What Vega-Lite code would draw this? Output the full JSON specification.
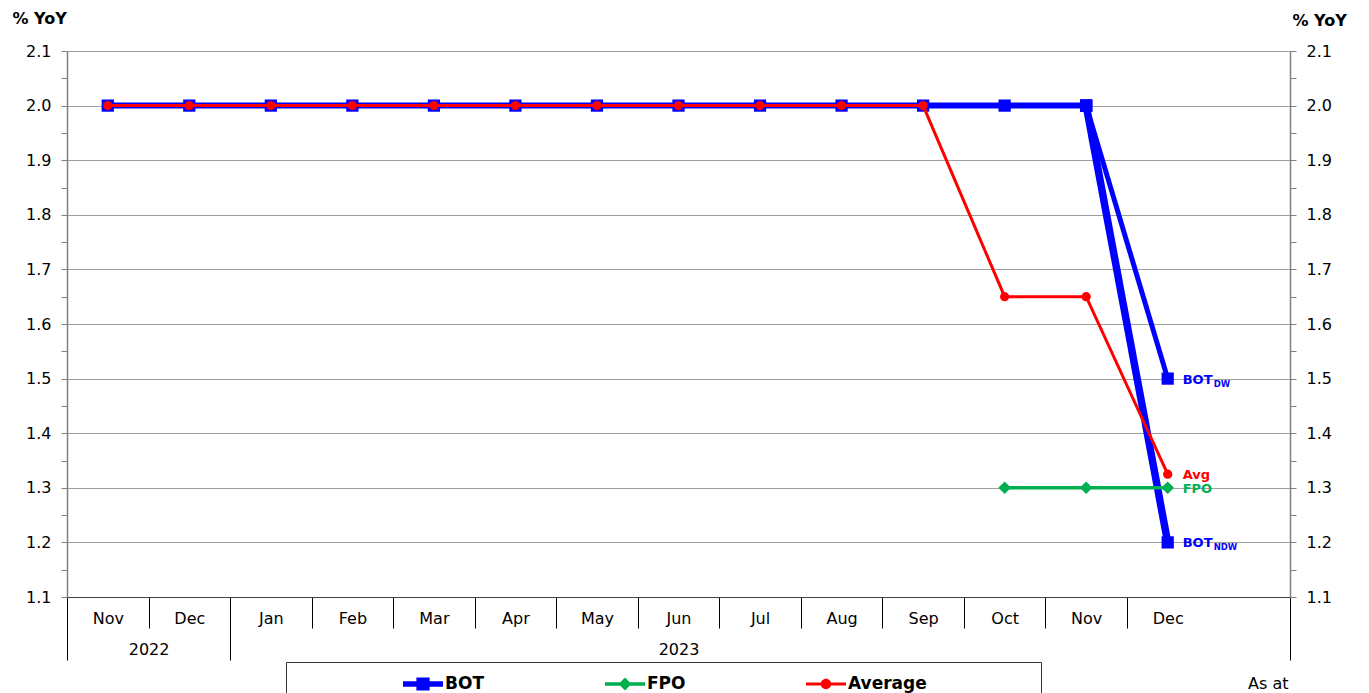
{
  "$schema": "https://vega.github.io/schema/vega-lite/v6.json",
  "width": 1223,
  "height": 546,
  "autosize": {"type": "none"},
  "padding": {"left": 67, "top": 51, "right": 79, "bottom": 96},
  "background": "white",
  "config": {"font": "DejaVu Sans", "view": {"stroke": null}},
  "datasets": {
    "series": [
      {"m": "2022-11", "v": 2.0, "s": "BOT", "b": "main"},
      {"m": "2022-12", "v": 2.0, "s": "BOT", "b": "main"},
      {"m": "2023-01", "v": 2.0, "s": "BOT", "b": "main"},
      {"m": "2023-02", "v": 2.0, "s": "BOT", "b": "main"},
      {"m": "2023-03", "v": 2.0, "s": "BOT", "b": "main"},
      {"m": "2023-04", "v": 2.0, "s": "BOT", "b": "main"},
      {"m": "2023-05", "v": 2.0, "s": "BOT", "b": "main"},
      {"m": "2023-06", "v": 2.0, "s": "BOT", "b": "main"},
      {"m": "2023-07", "v": 2.0, "s": "BOT", "b": "main"},
      {"m": "2023-08", "v": 2.0, "s": "BOT", "b": "main"},
      {"m": "2023-09", "v": 2.0, "s": "BOT", "b": "main"},
      {"m": "2023-10", "v": 2.0, "s": "BOT", "b": "main"},
      {"m": "2023-11", "v": 2.0, "s": "BOT", "b": "main"},
      {"m": "2023-11", "v": 2.0, "s": "BOT", "b": "NDW"},
      {"m": "2023-12", "v": 1.2, "s": "BOT", "b": "NDW"},
      {"m": "2023-11", "v": 2.0, "s": "BOT", "b": "DW"},
      {"m": "2023-12", "v": 1.5, "s": "BOT", "b": "DW"},
      {"m": "2023-10", "v": 1.3, "s": "FPO", "b": "main"},
      {"m": "2023-11", "v": 1.3, "s": "FPO", "b": "main"},
      {"m": "2023-12", "v": 1.3, "s": "FPO", "b": "main"},
      {"m": "2022-11", "v": 2.0, "s": "Average", "b": "main"},
      {"m": "2022-12", "v": 2.0, "s": "Average", "b": "main"},
      {"m": "2023-01", "v": 2.0, "s": "Average", "b": "main"},
      {"m": "2023-02", "v": 2.0, "s": "Average", "b": "main"},
      {"m": "2023-03", "v": 2.0, "s": "Average", "b": "main"},
      {"m": "2023-04", "v": 2.0, "s": "Average", "b": "main"},
      {"m": "2023-05", "v": 2.0, "s": "Average", "b": "main"},
      {"m": "2023-06", "v": 2.0, "s": "Average", "b": "main"},
      {"m": "2023-07", "v": 2.0, "s": "Average", "b": "main"},
      {"m": "2023-08", "v": 2.0, "s": "Average", "b": "main"},
      {"m": "2023-09", "v": 2.0, "s": "Average", "b": "main"},
      {"m": "2023-10", "v": 1.65, "s": "Average", "b": "main"},
      {"m": "2023-11", "v": 1.65, "s": "Average", "b": "main"},
      {"m": "2023-12", "v": 1.325, "s": "Average", "b": "main"}
    ],
    "labels": [
      {"m": "2023-12", "v": 1.5, "s": "BOT", "main": "BOT", "sub": "DW"},
      {"m": "2023-12", "v": 1.2, "s": "BOT", "main": "BOT", "sub": "NDW"},
      {"m": "2023-12", "v": 1.325, "s": "Average", "main": "Avg", "sub": null},
      {"m": "2023-12", "v": 1.3, "s": "FPO", "main": "FPO", "sub": null}
    ]
  },
  "resolve": {"axis": {"x": "independent", "y": "independent"}},
  "encoding": {
    "x": {"field": "m", "type": "ordinal",
      "scale": {"type": "band", "domain": ["2022-11","2022-12","2023-01","2023-02","2023-03","2023-04","2023-05","2023-06","2023-07","2023-08","2023-09","2023-10","2023-11","2023-12","2024-01"], "paddingInner": 0, "paddingOuter": 0},
      "axis": null},
    "y": {"field": "v", "type": "quantitative", "scale": {"domain": [1.1, 2.1], "nice": false, "zero": false}, "axis": null},
    "color": {"field": "s", "type": "nominal",
      "scale": {"domain": ["BOT", "FPO", "Average"], "range": ["#0000FF", "#00B050", "#FF0000"]},
      "legend": {
        "title": " ", "titleOrient": "left", "titlePadding": 115, "titleFontSize": 1,
        "orient": "none", "legendX": 219, "legendY": 611, "direction": "horizontal",
        "padding": 2, "strokeColor": "#333333", "fillColor": "#FFFFFF",
        "columnPadding": 120, "symbolSize": 1600, "symbolType": "square",
        "labelFontSize": 17, "labelFontWeight": "bold", "labelColor": "#000000", "labelFont": "DejaVu Sans",
        "labelOffset": 2, "labelLimit": 400,
        "encode": {
          "labels": {"update": {"text": {"signal": "datum.label == 'Average' ? 'Average\u2800\u2800\u2800\u2800\u2800\u2800\u2800\u00a0\u2800' : datum.label"}}},
          "symbols": {"update": {
          "shape": {"signal": "datum.value == 'BOT' ? 'M-1,-0.14H1V0.14H-1Z M-0.33,-0.33H0.33V0.33H-0.33Z' : datum.value == 'FPO' ? 'M-1,-0.09H1V0.09H-1Z M0,-0.32L0.32,0L0,0.32L-0.32,0Z' : 'M-1,-0.075H1V0.075H-1Z M-0.26,0A0.26,0.26 0 1,1 0.26,0A0.26,0.26 0 1,1 -0.26,0Z'"},
          "fill": {"signal": "datum.value == 'BOT' ? '#0000FF' : datum.value == 'FPO' ? '#00B050' : '#FF0000'"},
          "stroke": {"value": "transparent"},
          "strokeWidth": {"value": 0},
          "opacity": {"value": 1},
          "fillOpacity": {"value": 1}
        }}}
      }}
  },
  "layer": [
    {
      "data": {"name": "series"},
      "transform": [{"filter": "datum.s == 'BOT' && datum.b == 'main'"}],
      "mark": {"type": "line", "strokeWidth": 6},
      "encoding": {
        "x": {"field": "m", "type": "ordinal",
          "scale": {"type": "band", "domain": ["2022-11","2022-12","2023-01","2023-02","2023-03","2023-04","2023-05","2023-06","2023-07","2023-08","2023-09","2023-10","2023-11","2023-12","2024-01"], "paddingInner": 0, "paddingOuter": 0},
          "axis": {"title": null, "orient": "bottom", "tickBand": "extent", "grid": false,
            "tickSize": 31,
            "tickOpacity": {"condition": {"test": "datum.value == '2023-12'", "value": 0}, "value": 1},
            "tickColor": "#000000", "tickWidth": 1, "domainColor": "#404040", "domainWidth": 1,
            "labelExpr": "datum.value == '2024-01' || !datum.value ? '' : timeFormat(toDate(datum.value + '-15T12:00:00'), '%b')",
            "labelAngle": 0, "labelFontSize": 16, "labelFont": "DejaVu Sans", "labelColor": "#000000",
            "labelBaseline": "middle", "labelPadding": -10, "labelOverlap": false, "labelBound": false, "labelFlush": false}},
        "y": {"field": "v", "type": "quantitative", "scale": {"domain": [1.1, 2.1], "nice": false, "zero": false},
          "axis": {"orient": "left", "values": [1.1,1.15,1.2,1.25,1.3,1.35,1.4,1.45,1.5,1.55,1.6,1.65,1.7,1.75,1.8,1.85,1.9,1.95,2.0,2.05,2.1],
            "labelExpr": "round(datum.value * 100) % 10 == 0 ? format(datum.value, '.1f') : ''",
            "grid": true, "gridColor": "#A0A0A0", "gridWidth": 1,
            "gridOpacity": {"condition": {"test": "round(datum.value * 100) % 10 != 0", "value": 0}, "value": 1},
            "tickSize": 6, "tickColor": "#808080", "domainColor": "#808080", "domainWidth": 1.5,
            "labelFontSize": 16, "labelFont": "DejaVu Sans", "labelColor": "#000000", "labelPadding": 10, "labelOverlap": false, "labelBound": false, "labelFlush": false,
            "title": "% YoY", "titleAngle": 0, "titleFontWeight": "bold", "titleFontSize": 16, "titleFont": "DejaVu Sans", "titleColor": "#000000",
            "titleAlign": "left", "titleBaseline": "middle", "titleX": -55, "titleY": -33}}
      }
    },
    {
      "data": {"name": "series"},
      "transform": [{"filter": "datum.s == 'BOT' && datum.b == 'NDW'"}],
      "mark": {"type": "line", "strokeWidth": 7.5}
    },
    {
      "data": {"name": "series"},
      "transform": [{"filter": "datum.s == 'BOT' && datum.b == 'DW'"}],
      "mark": {"type": "line", "strokeWidth": 5}
    },
    {
      "data": {"name": "series"},
      "transform": [{"filter": "datum.s == 'BOT'"}],
      "mark": {"type": "point", "shape": "square", "size": 150, "filled": true, "opacity": 1}
    },
    {
      "data": {"name": "series"},
      "transform": [{"filter": "datum.s == 'FPO'"}],
      "mark": {"type": "line", "strokeWidth": 3.5}
    },
    {
      "data": {"name": "series"},
      "transform": [{"filter": "datum.s == 'FPO'"}],
      "mark": {"type": "point", "shape": "diamond", "size": 160, "filled": true, "opacity": 1}
    },
    {
      "data": {"name": "series"},
      "transform": [{"filter": "datum.s == 'Average'"}],
      "mark": {"type": "line", "strokeWidth": 3}
    },
    {
      "data": {"name": "series"},
      "transform": [{"filter": "datum.s == 'Average'"}],
      "mark": {"type": "circle", "size": 85, "opacity": 1},
      "encoding": {
        "x": {"field": "m", "type": "ordinal",
          "scale": {"type": "band", "domain": ["2022-11","2022-12","2023-01","2023-02","2023-03","2023-04","2023-05","2023-06","2023-07","2023-08","2023-09","2023-10","2023-11","2023-12","2024-01"], "paddingInner": 0, "paddingOuter": 0},
          "axis": {"orient": "bottom", "offset": 30, "values": ["2022-11", "2022-12", "2024-01"], "tickBand": "extent", "grid": false,
            "domain": false, "tickSize": 33, "tickColor": "#000000", "tickWidth": 1,
            "tickOpacity": {"condition": {"test": "datum.value == '2022-11'", "value": 0}, "value": 1},
            "labelExpr": "datum.value == '2022-11' ? '2022' : datum.value == '2022-12' ? '2023' : ''",
            "labelOffset": {"condition": {"test": "datum.value == '2022-11'", "value": 40.8}, "value": 489.2},
            "labelAngle": 0, "labelFontSize": 16, "labelFont": "DejaVu Sans", "labelColor": "#000000",
            "labelBaseline": "middle", "labelPadding": -11, "labelOverlap": false, "labelBound": false, "labelFlush": false,
            "title": "As at", "titleFont": "DejaVu Sans", "titleFontSize": 16, "titleFontWeight": "normal", "titleColor": "#000000",
            "titleAlign": "right", "titleBaseline": "middle", "titleAnchor": null, "titleX": 1221, "titleY": 56, "titleAngle": 0}},
        "y": {"field": "v", "type": "quantitative", "scale": {"domain": [1.1, 2.1], "nice": false, "zero": false},
          "axis": {"orient": "right", "values": [1.1,1.15,1.2,1.25,1.3,1.35,1.4,1.45,1.5,1.55,1.6,1.65,1.7,1.75,1.8,1.85,1.9,1.95,2.0,2.05,2.1],
            "labelExpr": "round(datum.value * 100) % 10 == 0 ? format(datum.value, '.1f') : ''",
            "grid": false, "tickSize": 6, "tickColor": "#808080", "domainColor": "#808080", "domainWidth": 1.5,
            "labelFontSize": 16, "labelFont": "DejaVu Sans", "labelColor": "#000000", "labelPadding": 10, "labelOverlap": false, "labelBound": false, "labelFlush": false,
            "title": "% YoY", "titleAngle": 0, "titleFontWeight": "bold", "titleFontSize": 16, "titleFont": "DejaVu Sans", "titleColor": "#000000",
            "titleAlign": "left", "titleBaseline": "middle", "titleX": 2, "titleY": -31}}
      }
    },
    {
      "data": {"name": "labels"},
      "mark": {"type": "text", "align": "left", "baseline": "alphabetic", "dx": 15, "dy": 5, "fontSize": 13, "fontWeight": "bold", "font": "DejaVu Sans"},
      "encoding": {"text": {"field": "main"}}
    },
    {
      "data": {"name": "labels"},
      "transform": [{"filter": "datum.sub != null"}],
      "mark": {"type": "text", "align": "left", "baseline": "alphabetic", "dx": 46, "dy": 8, "fontSize": 8.5, "fontWeight": "bold", "font": "DejaVu Sans"},
      "encoding": {"text": {"field": "sub"}}
    }
  ]
}
